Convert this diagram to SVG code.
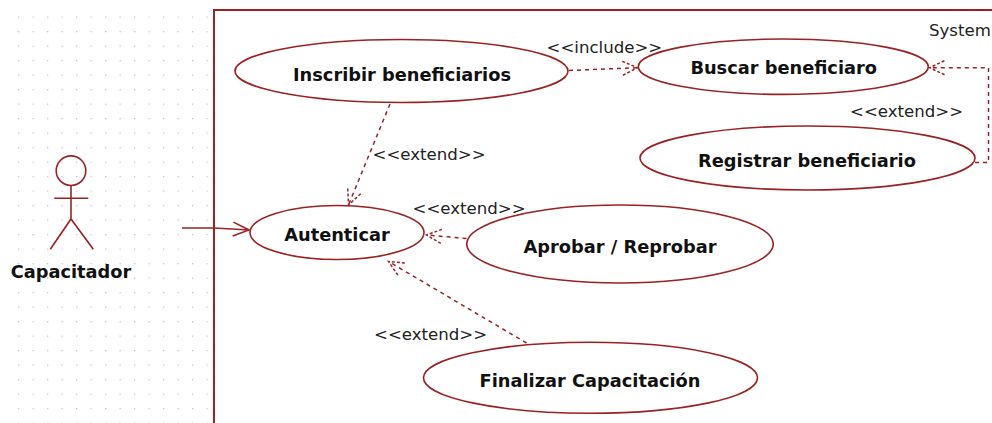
<svg xmlns="http://www.w3.org/2000/svg" width="992" height="423" viewBox="0 0 992 423">
<style>
.uc{fill:#ffffff;stroke:#9B2222;stroke-width:1.6}
.bl{font-family:"DejaVu Sans",Verdana,sans-serif;font-weight:bold;font-size:17.8px;fill:#111;text-anchor:middle}
.lb{font-family:"DejaVu Sans",Verdana,sans-serif;font-size:16.6px;fill:#222}
.dash{fill:none;stroke:#9B2222;stroke-width:1.5;stroke-dasharray:4 4}
.solid{fill:none;stroke:#9B2222;stroke-width:1.6}
.actor{fill:none;stroke:#9B2222;stroke-width:1.6}
</style>
<defs>
<pattern id="grid" patternUnits="userSpaceOnUse" x="18" y="16.5" width="14.5" height="14.5">
<rect x="0" y="0" width="1.3" height="1.3" fill="#c4c4c4"/>
</pattern>
<marker id="openD" markerUnits="userSpaceOnUse" viewBox="-17 -9 19 18" markerWidth="19" markerHeight="18" refX="0" refY="0" orient="auto">
<path d="M -15 -7 L 0 0 L -15 7" fill="none" stroke="#9B2222" stroke-width="1.5" stroke-dasharray="3 2"/>
</marker>
<marker id="openS" markerUnits="userSpaceOnUse" viewBox="-17 -9 19 18" markerWidth="19" markerHeight="18" refX="0" refY="0" orient="auto">
<path d="M -16 -7 L 0 0 L -16 7" fill="none" stroke="#9B2222" stroke-width="1.6"/>
</marker>
</defs>
<rect x="0" y="0" width="992" height="423" fill="#ffffff"/>
<rect x="10" y="10" width="202" height="413" fill="url(#grid)"/>
<g id="system">
<path d="M 214 423 L 214 10 L 992 10" fill="none" stroke="#9B2222" stroke-width="2"/>
<text class="lb" x="929" y="36">System</text>
</g>
<g id="connectors">
<path class="solid" d="M 182 228 L 214 228 L 249 230" marker-end="url(#openS)"/>
<path class="dash" d="M 569 70.5 L 637.5 67.7" marker-end="url(#openD)"/>
<text class="lb" x="546.5" y="52.5">&lt;&lt;include&gt;&gt;</text>
<path class="dash" d="M 975 162.5 L 988.5 162.5 L 988.5 67.7 L 929.5 67.7" marker-end="url(#openD)"/>
<text class="lb" x="850" y="117">&lt;&lt;extend&gt;&gt;</text>
<path class="dash" d="M 390 104 L 348.5 205" marker-end="url(#openD)"/>
<text class="lb" x="372.5" y="160">&lt;&lt;extend&gt;&gt;</text>
<path class="dash" d="M 466.5 238.5 L 426.5 235" marker-end="url(#openD)"/>
<text class="lb" x="412.5" y="213.5">&lt;&lt;extend&gt;&gt;</text>
<path class="dash" d="M 526.5 343 L 388.5 261.5" marker-end="url(#openD)"/>
<text class="lb" x="374" y="339.5">&lt;&lt;extend&gt;&gt;</text>
</g>
<g id="actor-capacitador">
<circle class="actor" cx="71" cy="170.7" r="14.8"/>
<path class="actor" d="M 71 185.5 L 71 219 M 54.3 198.3 L 88.3 198.3 M 50.3 249.3 L 71 219 L 93.3 249.3"/>
<text class="bl" x="71" y="278">Capacitador</text>
</g>
<g id="uc-inscribir">
<ellipse class="uc" cx="401.5" cy="71" rx="166.5" ry="31.5"/>
<text class="bl" x="402" y="80.5">Inscribir beneficiarios</text>
</g>
<g id="uc-buscar">
<ellipse class="uc" cx="783.3" cy="66.7" rx="145" ry="27.7"/>
<text class="bl" x="783.7" y="74">Buscar beneficiaro</text>
</g>
<g id="uc-registrar">
<ellipse class="uc" cx="807.5" cy="158" rx="167.5" ry="32"/>
<text class="bl" x="807" y="166.5">Registrar beneficiario</text>
</g>
<g id="uc-autenticar">
<ellipse class="uc" cx="337" cy="232.5" rx="87" ry="27"/>
<text class="bl" x="337" y="240.5">Autenticar</text>
</g>
<g id="uc-aprobar">
<ellipse class="uc" cx="620" cy="244" rx="153.3" ry="39"/>
<text class="bl" x="620" y="252.5">Aprobar / Reprobar</text>
</g>
<g id="uc-finalizar">
<ellipse class="uc" cx="590.5" cy="377.8" rx="167" ry="35.5"/>
<text class="bl" x="590" y="386.5">Finalizar Capacitación</text>
</g>
</svg>
